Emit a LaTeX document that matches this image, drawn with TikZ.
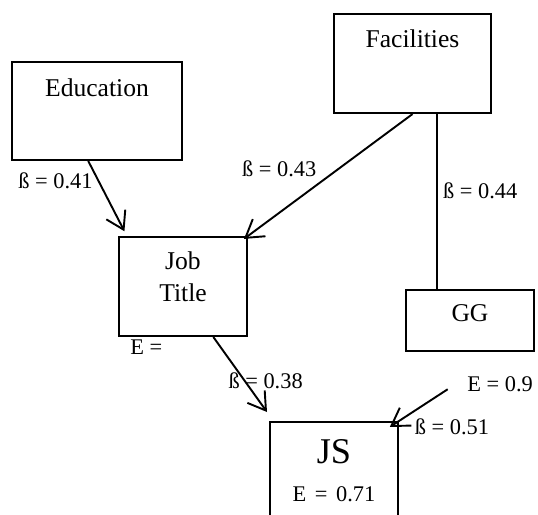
\documentclass[tikz,border=0pt]{standalone}
\usepackage{fontspec}
\setmainfont{Liberation Serif}
\usetikzlibrary{arrows.meta}
\tikzset{
  box/.style={draw,line width=0.9pt,inner sep=0pt,text width=#1,align=center,
    anchor=base,font=\fontsize{12}{15}\selectfont},
  box/.default=60pt,
  coef/.style={inner sep=0pt,font=\fontsize{10.5}{12.5}\selectfont},
  link/.style={line width=0.9pt}
}
\begin{document}
\begin{tikzpicture}[x=0.469pt,y=-0.469pt,>={Straight Barb[length=8pt,width=10pt]}]
      \clip (0,0) rectangle (538,515);
      \node[box=79.7pt,text height=15.9pt,text depth=30pt] (edu) at (97,96) {Education};
      \node[box=73.6pt,text height=15.5pt,text depth=31pt] (fac) at (412.5,47) {Facilities};
      \node[box,text height=15.5pt,text depth=31pt] (job) at (183,270) {Job\\Title};
      \node[box,text height=15pt,text depth=13.6pt] (gg) at (470,322) {GG};
      \node[box,text height=19.7pt,text depth=56pt] (js) at (334,464)
        {{\fontsize{17}{20}\selectfont JS}\\[2.8pt]{\fontsize{10.5}{12.5}\selectfont E = 0.71}};
      \node[coef,anchor=base west] (ejob) at (130,355) {E =};
      \node[coef,anchor=base west] (ejs) at (467,392) {E = 0.9};
      \begin{scope}[link]
        \draw[->,shorten >=2.5pt] (edu.260)--(job.138) node[coef,pos=0.27,left=2.4pt]{ß = 0.41};
        \draw[->,shorten >=-2.3pt] (fac.south)--(job.north east) node[coef,pos=0.45,left=9.9pt]{ß = 0.43};
        \draw (fac.south -| gg.136)--(gg.136) node[coef,pos=0.44,right=2.2pt]{ß = 0.44};
        \draw[->,shorten >=5.2pt] (job.-59)--([xshift=2.06pt]js.north west)
          node[coef,pos=0.52,anchor=west,xshift=-8pt]{ß = 0.38};
        \draw[->,shorten <=10.8pt,shorten >=-5.1pt] (ejs.north west)--(js.north east)
          node[coef,at end,anchor=west,xshift=7pt,yshift=-2.8pt]{ß = 0.51};
      \end{scope}
    \end{tikzpicture}
\end{document}
